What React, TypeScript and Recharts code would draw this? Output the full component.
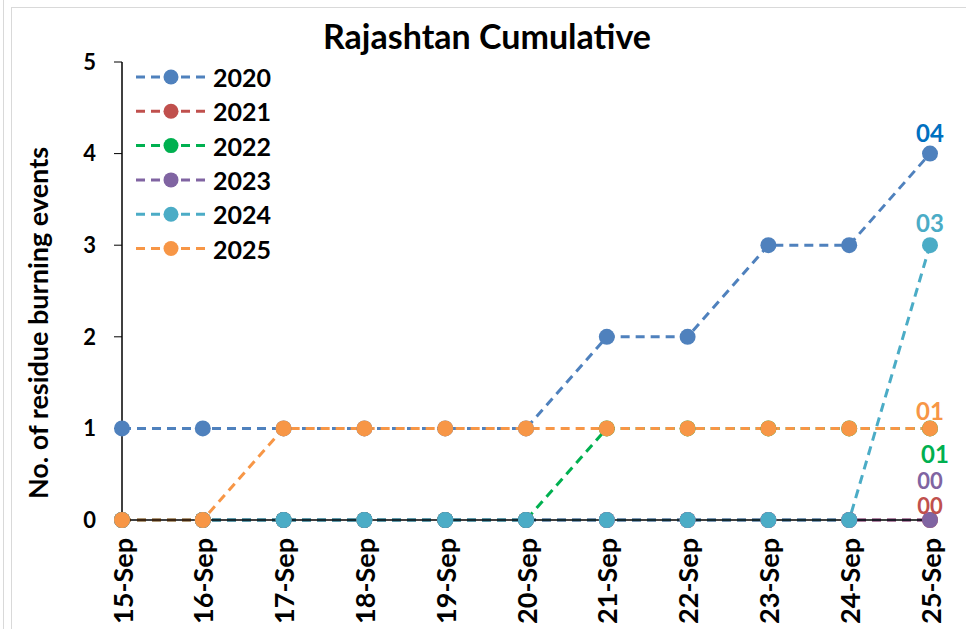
import { LineChart, Line, XAxis, YAxis, Legend } from "recharts";

const dates = [
  "15-Sep", "16-Sep", "17-Sep", "18-Sep", "19-Sep", "20-Sep",
  "21-Sep", "22-Sep", "23-Sep", "24-Sep", "25-Sep",
];
const years = ["2020", "2021", "2022", "2023", "2024", "2025"];
const y2020 = [1, 1, 1, 1, 1, 1, 2, 2, 3, 3, 4];
const y2021 = [0, 0, 0, 0, 0, 0, 0, 0, 0, 0, 0];
const y2022 = [0, 0, 0, 0, 0, 0, 1, 1, 1, 1, 1];
const y2023 = [0, 0, 0, 0, 0, 0, 0, 0, 0, 0, 0];
const y2024 = [0, 0, 0, 0, 0, 0, 0, 0, 0, 0, 3];
const y2025 = [0, 0, 1, 1, 1, 1, 1, 1, 1, 1, 1];
const yTicks = [0, 1, 2, 3, 4, 5];

const seriesValues = [y2020, y2021, y2022, y2023, y2024, y2025];

const data = dates.map((date, i) => {
  const row: Record<string, string | number> = { date };
  years.forEach((yr, s) => {
    row[yr] = seriesValues[s][i];
  });
  return row;
});

const colors: Record<string, string> = {
  "2020": "#4F81BD",
  "2021": "#C0504D",
  "2022": "#00B050",
  "2023": "#8064A2",
  "2024": "#4BACC6",
  "2025": "#F79646",
};
const labelColors: Record<string, string> = {
  ...colors,
  "2020": "#0070C0",
};
// where the end labels sit relative to the last point
const labelOffset: Record<string, [number, number]> = {
  "2020": [0, -21],
  "2021": [0, -15],
  "2022": [5, 25],
  "2023": [0, -40],
  "2024": [0, -23],
  "2025": [0, -18],
};

const FONT = "Lato, 'Open Sans', sans-serif";
const DASH = "9 6";

const XTick = (props: any) => {
  const { x, y, payload } = props;
  return (
    <text
      x={x}
      y={y}
      transform={`rotate(-90, ${x}, ${y})`}
      textAnchor="end"
      dominantBaseline="central"
      fontFamily={FONT}
      fontWeight={700}
      fontSize={27}
      fill="#000"
    >
      {payload.value}
    </text>
  );
};

const endLabel = (yr: string) => (props: any) => {
  const { x, y, index, value } = props;
  if (index !== dates.length - 1) return <g />;
  const [dx, dy] = labelOffset[yr];
  return (
    <text
      x={x + dx}
      y={y + dy}
      textAnchor="middle"
      dominantBaseline="central"
      fontFamily={FONT}
      fontWeight={700}
      fontSize={value === 0 ? 22 : 24}
      fill={labelColors[yr]}
    >
      {String(value).padStart(2, "0")}
    </text>
  );
};

const LegendBox = () => (
  <svg width={160} height={215} style={{ display: "block" }}>
    {years.map((yr, i) => {
      const cy = 19 + i * 34.3;
      return (
        <g key={yr}>
          <line
            x1={8}
            x2={79}
            y1={cy}
            y2={cy}
            stroke={colors[yr]}
            strokeWidth={3}
            strokeDasharray={DASH}
          />
          <circle cx={43} cy={cy} r={7.5} fill={colors[yr]} />
          <text
            x={85}
            y={cy}
            dominantBaseline="central"
            fontFamily={FONT}
            fontWeight={700}
            fontSize={25}
            fill="#000"
          >
            {yr}
          </text>
        </g>
      );
    })}
  </svg>
);

export default function App() {
  return (
    <div
      style={{
        position: "absolute",
        left: 0,
        top: 0,
        width: 966,
        height: 629,
        background: "#fff",
        overflow: "hidden",
      }}
    >
      <div
        style={{
          position: "absolute",
          left: 3,
          top: 0,
          width: 0,
          height: 629,
          borderLeft: "1px solid #D9D9D9",
        }}
      />
      <div
        style={{
          position: "absolute",
          left: 11,
          top: 7,
          width: 1000,
          height: 700,
          borderLeft: "1px solid #D9D9D9",
          borderTop: "1px solid #D9D9D9",
        }}
      />
      <div
        style={{
          position: "absolute",
          left: 0,
          width: 966,
          top: 15,
          textAlign: "center",
          paddingLeft: 8,
          boxSizing: "border-box",
          fontFamily: FONT,
          fontWeight: 700,
          fontSize: 34,
          lineHeight: "42px",
          color: "#000",
        }}
      >
        Rajashtan Cumulative
      </div>
      <div
        style={{
          position: "absolute",
          left: 37,
          top: 323,
          transform: "translate(-50%, -50%) rotate(-90deg)",
          whiteSpace: "nowrap",
          fontFamily: FONT,
          fontWeight: 700,
          fontSize: 27,
          color: "#000",
        }}
      >
        No. of residue burning events
      </div>
      <div style={{ position: "absolute", left: 0, top: 0 }}>
        <LineChart
          width={966}
          height={629}
          data={data}
          margin={{ top: 62, right: 36, bottom: 9, left: 62 }}
        >
          <XAxis
            dataKey="date"
            interval={0}
            tick={<XTick />}
            tickSize={5}
            tickMargin={13}
            height={100}
            axisLine={{ stroke: "#000", strokeWidth: 1.5 }}
            tickLine={{ stroke: "#000" }}
          />
          <YAxis
            domain={[0, 5]}
            ticks={yTicks}
            width={60}
            tickSize={8}
            tickMargin={18}
            axisLine={{ stroke: "#000", strokeWidth: 1.5 }}
            tickLine={{ stroke: "#000" }}
            tick={{
              fontFamily: FONT,
              fontWeight: 700,
              fontSize: 22,
              fill: "#000",
            }}
          />
          <Legend
            layout="vertical"
            align="center"
            verticalAlign="middle"
            content={<LegendBox />}
            wrapperStyle={{ position: "absolute", left: 128, top: 58, width: 160, height: 215 }}
          />
          {years.map((yr) => (
            <Line
              key={yr}
              type="linear"
              dataKey={yr}
              stroke={colors[yr]}
              strokeWidth={3}
              strokeDasharray={DASH}
              dot={{ r: 8, fill: colors[yr], stroke: colors[yr], strokeWidth: 0 }}
              activeDot={false}
              label={endLabel(yr)}
              isAnimationActive={false}
            />
          ))}
        </LineChart>
      </div>
    </div>
  );
}
